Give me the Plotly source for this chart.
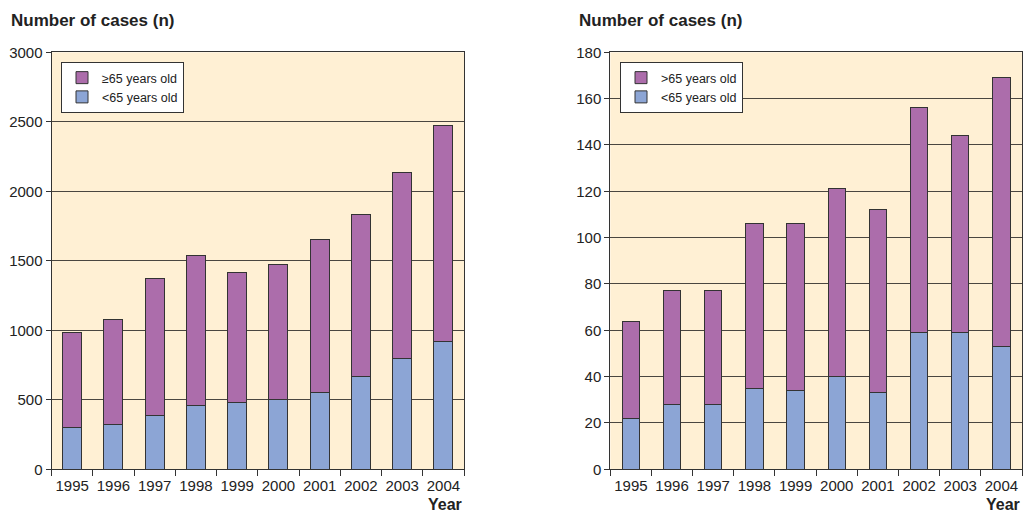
import plotly.graph_objects as go

years = ["1995", "1996", "1997", "1998", "1999", "2000", "2001", "2002", "2003", "2004"]

# Left chart
left_under65 = [299, 321, 386, 460, 482, 503, 549, 666, 799, 916]
left_over65 = [684, 758, 988, 1077, 935, 967, 1106, 1164, 1333, 1561]

# Right chart
right_under65 = [22, 28, 28, 35, 34, 40, 33, 59, 59, 53]
right_over65 = [42, 49, 49, 71, 72, 81, 79, 97, 85, 116]

PURPLE = "#AC6DAB"
BLUE = "#8CA5D5"
BG = "#FFF0D4"
LINE = "#333333"
GRID = "#4a4640"
FONT = "Liberation Sans, Arial, sans-serif"

fig = go.Figure()

bar_line = dict(color="#333333", width=1)
fig.add_trace(go.Bar(x=years, y=left_under65, name="<65 years old", marker=dict(color=BLUE, line=bar_line),
                     width=0.46, xaxis="x", yaxis="y", legend="legend"))
fig.add_trace(go.Bar(x=years, y=left_over65, name="≥65 years old", marker=dict(color=PURPLE, line=bar_line),
                     width=0.46, xaxis="x", yaxis="y", legend="legend"))
fig.add_trace(go.Bar(x=years, y=right_under65, name="<65 years old", marker=dict(color=BLUE, line=bar_line),
                     width=0.42, xaxis="x2", yaxis="y2", legend="legend2"))
fig.add_trace(go.Bar(x=years, y=right_over65, name=">65 years old", marker=dict(color=PURPLE, line=bar_line),
                     width=0.42, xaxis="x2", yaxis="y2", legend="legend2"))

W, H = 1023, 513

def px(xp):
    return xp / W

def py(yp):
    return 1 - yp / H

xcommon = dict(type="category", showline=True, linecolor=LINE, linewidth=1, mirror=True,
               ticks="outside", tickson="boundaries", ticklen=6, tickcolor=LINE, tickangle=0,
               automargin=False, ticklabelstandoff=3,
               showgrid=False, tickfont=dict(size=15, color="#222", family=FONT))
ycommon = dict(showline=True, linecolor=LINE, linewidth=1, mirror=True,
               ticks="outside", ticklen=5, tickcolor=LINE, automargin=False,
               showgrid=True, gridcolor=GRID, gridwidth=1, zeroline=False,
               tickfont=dict(size=15, color="#222", family=FONT))

legcommon = dict(bgcolor="white", bordercolor=LINE, borderwidth=1, traceorder="reversed",
                 font=dict(size=12.5, color="#222", family=FONT), xanchor="left", yanchor="top",
                 itemwidth=30, tracegroupgap=0)

fig.update_layout(
    template="none",
    width=W, height=H,
    autosize=False,
    margin=dict(l=0, r=0, t=0, b=0, pad=0, autoexpand=False),
    paper_bgcolor="white",
    plot_bgcolor=BG,
    barmode="stack",
    font=dict(family=FONT, color="#222"),
    xaxis=dict(domain=[px(51.5), px(464)], anchor="y", **xcommon),
    yaxis=dict(domain=[py(469.3), py(52.3)], anchor="x", range=[0, 3000], dtick=500, **ycommon),
    xaxis2=dict(domain=[px(610.3), px(1022)], anchor="y2", **xcommon),
    yaxis2=dict(domain=[py(469.3), py(52.3)], anchor="x2", range=[0, 180], dtick=20, **ycommon),
    legend=dict(x=px(61), y=py(62), **legcommon),
    legend2=dict(x=px(620), y=py(62), **legcommon),
    annotations=[
        dict(text="<b>Number of cases (n)</b>", x=px(9), y=py(20), xref="paper", yref="paper",
             xanchor="left", yanchor="middle", showarrow=False, font=dict(size=17, color="#222", family=FONT)),
        dict(text="<b>Number of cases (n)</b>", x=px(577), y=py(20), xref="paper", yref="paper",
             xanchor="left", yanchor="middle", showarrow=False, font=dict(size=17, color="#222", family=FONT)),
        dict(text="<b>Year</b>", x=px(464), y=py(504), xref="paper", yref="paper",
             xanchor="right", yanchor="middle", showarrow=False, font=dict(size=16, color="#222", family=FONT)),
        dict(text="<b>Year</b>", x=px(1022), y=py(504), xref="paper", yref="paper",
             xanchor="right", yanchor="middle", showarrow=False, font=dict(size=16, color="#222", family=FONT)),
    ],
)

fig.write_html("out.html", config={"displayModeBar": False},
               post_script="document.body.style.margin='0';document.body.style.overflow='hidden';")
